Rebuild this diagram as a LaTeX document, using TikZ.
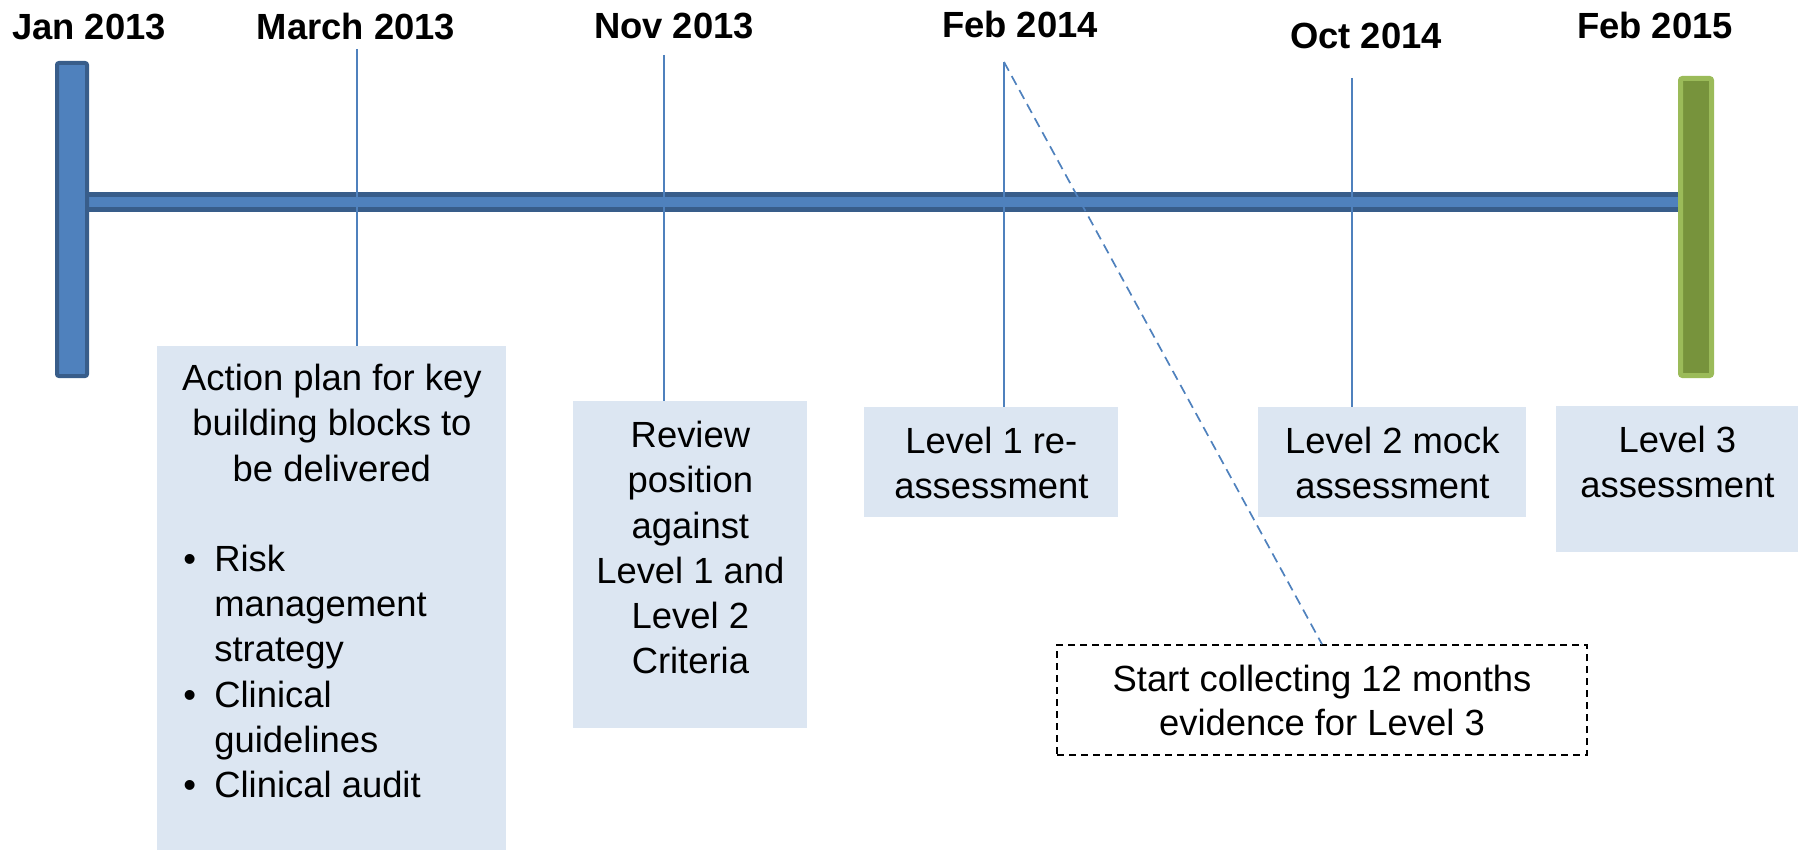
\documentclass[tikz,border=0pt]{standalone}
\usepackage{fontspec}
\setmainfont{Liberation Sans}
\usetikzlibrary{positioning}
\definecolor{barblue}{HTML}{4F81BD}
\definecolor{bardark}{HTML}{385D8A}
\definecolor{endfill}{HTML}{77933C}
\definecolor{endline}{HTML}{9BBB59}
\definecolor{boxblue}{HTML}{DCE6F2}
\newcommand{\boxtext}[3]{\parbox[t][#2][t]{#1}{\centering\vspace*{10pt}#3}}

\begin{document}
\begin{tikzpicture}[x=0.5pt,y=-0.5pt,
  datelbl/.style={font=\fontsize{18.2pt}{22pt}\selectfont\bfseries,anchor=base,inner sep=0pt},
  event/.style={fill=boxblue,inner sep=0pt,anchor=north west,font=\fontsize{18.2pt}{22.6pt}\selectfont},
  dropline/.style={barblue,line width=0.85pt}]
\useasboundingbox (0,0) rectangle (1798,850);

% timeline bar and end posts
\filldraw[fill=barblue,draw=bardark,line width=2.5pt] (86,194.5) rectangle (1681,209.5);
\filldraw[fill=barblue,draw=bardark,line width=2pt,rounded corners=1pt] (57,63) rectangle (87,376);
\filldraw[fill=endfill,draw=endline,line width=2.5pt,rounded corners=1pt] (1680.5,78.5) rectangle (1711.5,375.5);

% dates
\node[datelbl] (jan13) at (89,40) {Jan 2013};
\node[datelbl] (mar13) at (356,40) {March 2013};
\node[datelbl] (nov13) at (674,39) {Nov 2013};
\node[datelbl] (feb14) at (1020,38) {Feb 2014};
\node[datelbl] (oct14) at (1366,49) {Oct 2014};
\node[datelbl] (feb15) at (1655,39) {Feb 2015};

% events
\node[event] (plan) at (157,346) {\parbox[t][252pt][t]{174.5pt}{\centering\vspace*{9pt}Action plan for key\\building blocks to\\be delivered\par
  \vspace{\baselineskip}\raggedright
  \hspace*{13pt}\makebox[15.5pt][l]{\textbullet}Risk\\
  \hspace*{28.5pt}management\\
  \hspace*{28.5pt}strategy\\
  \hspace*{13pt}\makebox[15.5pt][l]{\textbullet}Clinical\\
  \hspace*{28.5pt}guidelines\\
  \hspace*{13pt}\makebox[15.5pt][l]{\textbullet}Clinical audit}};
\node[event] (review) at (573,401) {\boxtext{117pt}{163.5pt}{Review\\position\\against\\Level 1 and\\Level 2\\Criteria}};
\node[event] (lvlone) at (864,407) {\boxtext{127pt}{55pt}{Level 1 re-\\assessment}};
\node[event] (lvltwo) at (1258,407) {\boxtext{134pt}{55pt}{Level 2 mock\\assessment}};
\node[event] (lvlthree) at (1556,406) {\boxtext{121pt}{73pt}{Level 3\\assessment}};
\node[draw,line width=0.75pt,dash pattern=on 3.5pt off 2.5pt,minimum width=265pt,minimum height=55pt,
  align=center,inner sep=0pt,font=\fontsize{18.2pt}{22pt}\selectfont] (collect) at (1322,700)
  {Start collecting 12 months\\evidence for Level 3};

% drop lines
\coordinate (marTop) at (357,49);
\coordinate (novTop) at (664,55);
\coordinate (febTop) at (1004,62);
\coordinate (octTop) at (1352,78);
\draw[dropline] (marTop) -- (marTop |- plan.north);
\draw[dropline] (novTop) -- (novTop |- review.north);
\draw[dropline] (febTop) -- (febTop |- lvlone.north);
\draw[dropline] (octTop) -- (octTop |- lvltwo.north);
\draw[dropline,dash pattern=on 5pt off 3pt] (febTop) -- (collect.north);
\end{tikzpicture}
\end{document}
